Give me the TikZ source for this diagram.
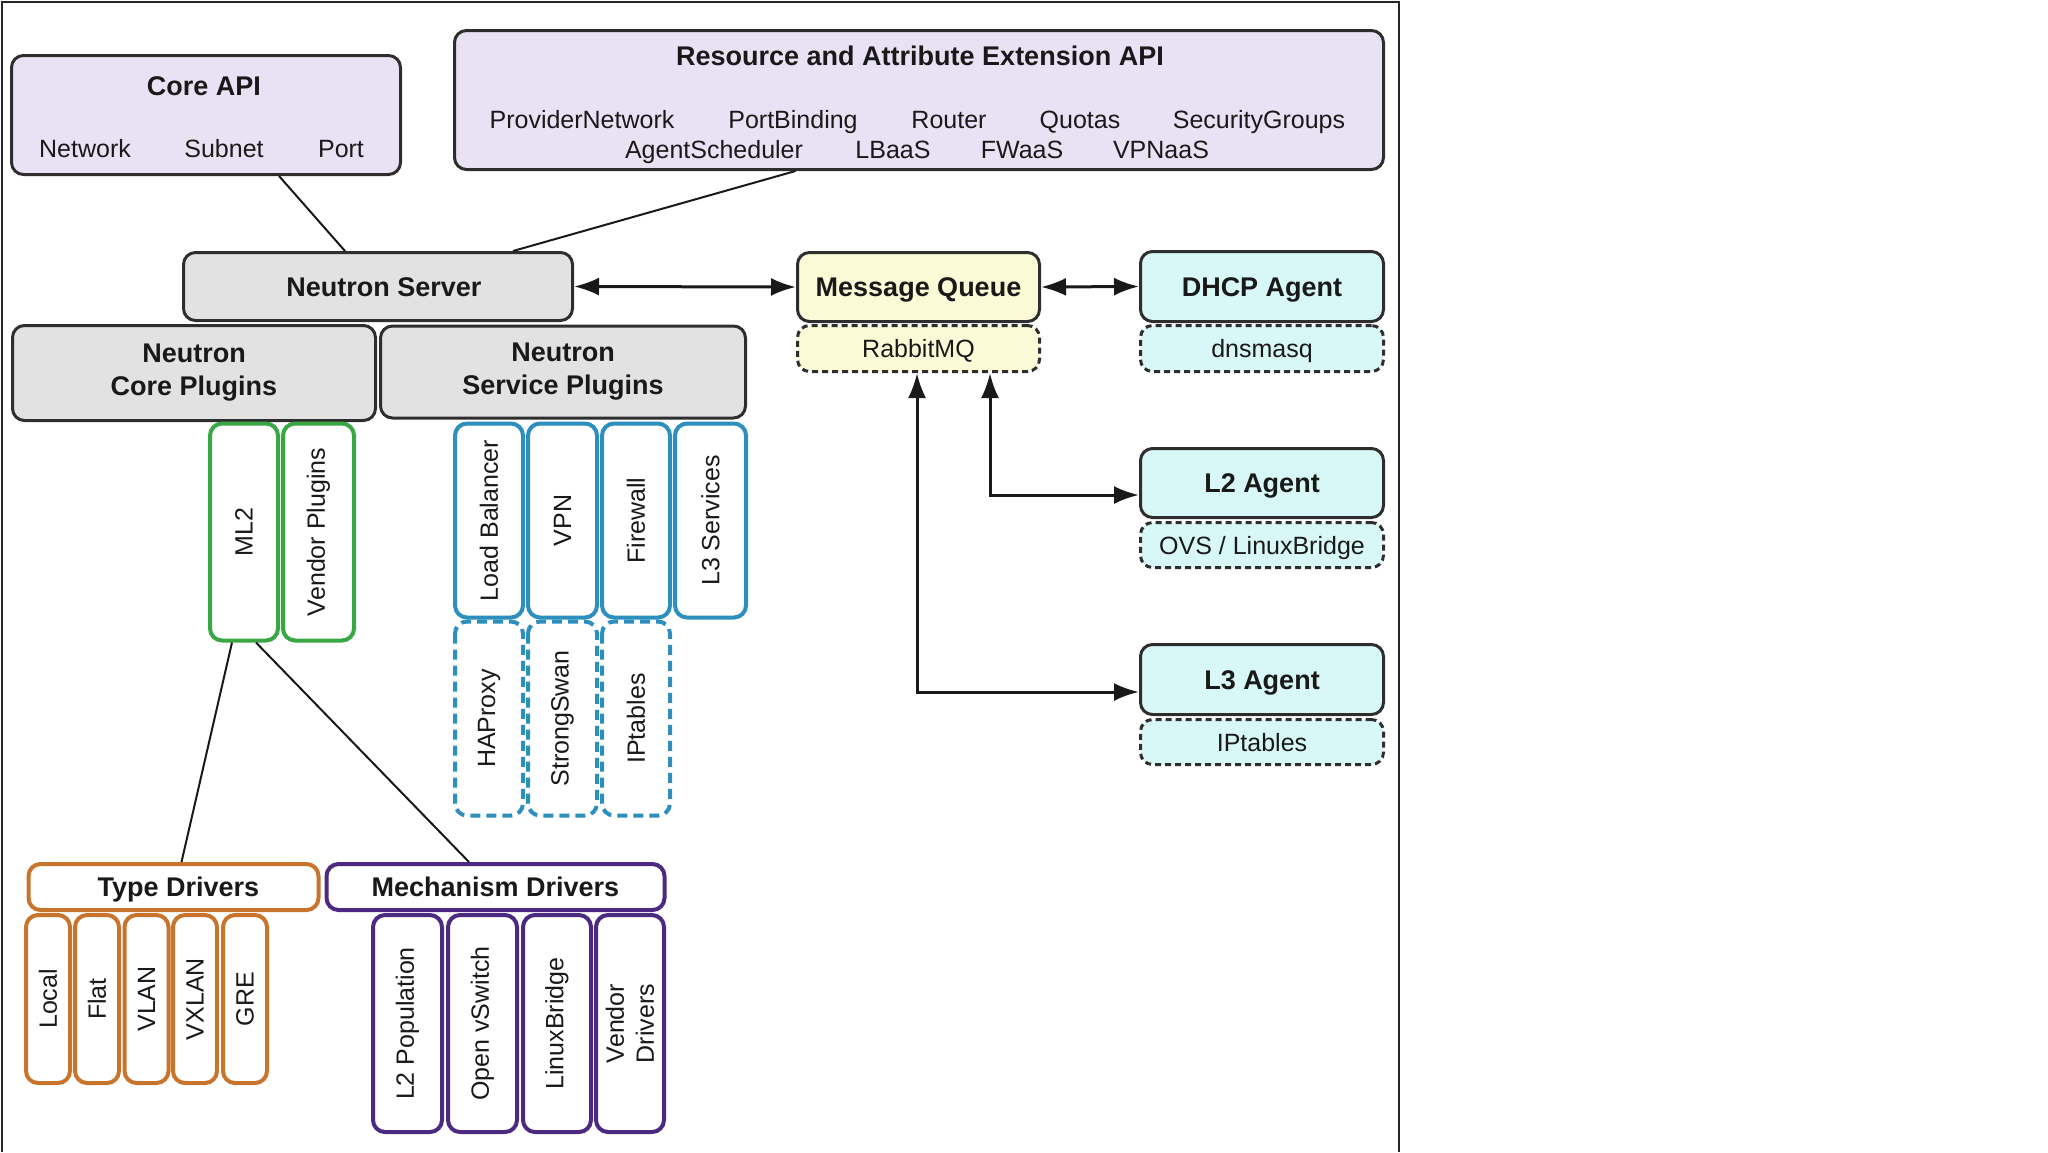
\documentclass[tikz,border=0pt]{standalone}
\usepackage{fontspec}
\setmainfont{Liberation Sans}
\usetikzlibrary{arrows.meta}

\definecolor{linegray}{HTML}{2E2E2E}
\definecolor{apifill}{HTML}{E9E2F4}
\definecolor{srvfill}{HTML}{E2E2E2}
\definecolor{mqfill}{HTML}{FAFAD6}
\definecolor{agentfill}{HTML}{D8F7F7}
\definecolor{plugreen}{HTML}{3AA745}
\definecolor{svcblue}{HTML}{2C8FBE}
\definecolor{typeorange}{HTML}{C8742C}
\definecolor{mechpurple}{HTML}{4C2A82}

\begin{document}
\begin{tikzpicture}[x=1pt, y=-1pt, >={Latex[length=25pt,width=18pt]},
    regtxt/.style={font=\fontsize{25}{30}\selectfont, text=black!90, inner sep=0pt},
    titletxt/.style={font=\bfseries\fontsize{27}{33}\selectfont, text=black!90, inner sep=0pt},
    capreg/.style={text height=18pt, text depth=0pt},
    captitle/.style={text height=19.5pt, text depth=0pt},
    box/.style={rounded corners=12pt, line width=3pt, inner sep=0pt, align=center},
    apibox/.style={box, draw=linegray, fill=apifill},
    srvbox/.style={box, titletxt, draw=linegray, fill=srvfill},
    mqbox/.style={box, titletxt, captitle, draw=linegray, fill=mqfill},
    mqsub/.style={box, regtxt, capreg, draw=linegray, fill=mqfill, dash pattern=on 6pt off 4pt},
    agentbox/.style={box, titletxt, captitle, draw=linegray, fill=agentfill},
    agentsub/.style={box, regtxt, capreg, draw=linegray, fill=agentfill, dash pattern=on 6pt off 4pt},
    vbox/.style={box, regtxt, rotate=90, line width=4pt, fill=white},
    plugbox/.style={vbox, draw=plugreen},
    svcbox/.style={vbox, draw=svcblue},
    svcsub/.style={vbox, draw=svcblue, dash pattern=on 10pt off 6pt},
    typebox/.style={box, titletxt, captitle, line width=4pt, draw=typeorange, fill=white},
    typesub/.style={vbox, draw=typeorange},
    mechbox/.style={box, titletxt, captitle, line width=4pt, draw=mechpurple, fill=white},
    mechsub/.style={vbox, draw=mechpurple},
    conn/.style={line width=2pt, draw=black!90},
    arr/.style={line width=3pt, draw=black!90}]

    \useasboundingbox (0,0) rectangle (2048,1152);
    \draw[line width=2.5pt, black!85] (2,1152) -- (2,2) -- (1399,2) -- (1399,1152);

    % APIs
    \node[apibox, minimum width=389pt, minimum height=119pt] (coreapi) at (206,115) {};
    \node[titletxt, anchor=base] (coreapititle) at (204,95) {Core API};
    \node[regtxt, anchor=base] (network) at (85,157) {Network};
    \node[regtxt, anchor=base] (subnet) at (224,157) {Subnet};
    \node[regtxt, anchor=base] (port) at (341,157) {Port};

    \node[apibox, minimum width=929pt, minimum height=139pt] (extapi) at (919,100) {};
    \node[titletxt, anchor=base] (extapititle) at (920,65) {Resource and Attribute Extension API};
    \node[regtxt, anchor=base] (providernet) at (582,128) {ProviderNetwork};
    \node[regtxt, anchor=base] (portbinding) at (793,128) {PortBinding};
    \node[regtxt, anchor=base] (router) at (949,128) {Router};
    \node[regtxt, anchor=base] (quotas) at (1080,128) {Quotas};
    \node[regtxt, anchor=base] (secgroups) at (1259,128) {SecurityGroups};
    \node[regtxt, anchor=base] (agentsched) at (714,158) {AgentScheduler};
    \node[regtxt, anchor=base] (lbaas) at (893,158) {LBaaS};
    \node[regtxt, anchor=base] (fwaas) at (1022,158) {FWaaS};
    \node[regtxt, anchor=base] (vpnaas) at (1161,158) {VPNaaS};

    % server and plugins
    \node[srvbox, captitle, minimum width=389pt, minimum height=68pt] (server) at (378,286.5) {\hspace*{12pt}Neutron Server};
    \node[srvbox, minimum width=363pt, minimum height=95pt] (coreplug) at (194,373) {Neutron\\Core Plugins};
    \node[srvbox, minimum width=365pt, minimum height=92pt] (svcplug) at (563,372) {Neutron\\Service Plugins};

    \node[plugbox, minimum width=217pt, minimum height=68pt] (ml2) at (244,532) {ML2};
    \node[plugbox, minimum width=217pt, minimum height=71pt] (vendplug) at (318.5,532) {Vendor Plugins};

    \node[svcbox, minimum width=194pt, minimum height=68pt] (lb) at (489,520.5) {Load Balancer};
    \node[svcbox, minimum width=194pt, minimum height=69pt] (vpn) at (562.5,520.5) {VPN};
    \node[svcbox, minimum width=194pt, minimum height=68pt] (fw) at (636,520.5) {Firewall};
    \node[svcbox, minimum width=194pt, minimum height=71pt] (l3svc) at (710.5,520.5) {L3 Services};
    \node[svcsub, minimum width=194pt, minimum height=68pt] (haproxy) at (489,718.5) {HAProxy};
    \node[svcsub, minimum width=194pt, minimum height=69pt] (strongswan) at (562.5,718.5) {StrongSwan};
    \node[svcsub, minimum width=194pt, minimum height=68pt] (fwtables) at (636,718.5) {IPtables};

    % ML2 drivers
    \node[typebox, minimum width=290pt, minimum height=46pt] (typedrv) at (173.5,887) {\hspace*{10pt}Type Drivers};
    \node[mechbox, minimum width=338pt, minimum height=46pt] (mechdrv) at (495.5,887) {Mechanism Drivers};

    \node[typesub, minimum width=168pt, minimum height=44pt] (local) at (48,999) {Local};
    \node[typesub, minimum width=168pt, minimum height=44pt] (flat) at (97,999) {Flat};
    \node[typesub, minimum width=168pt, minimum height=44pt] (vlan) at (146.5,999) {VLAN};
    \node[typesub, minimum width=168pt, minimum height=44pt] (vxlan) at (195,999) {VXLAN};
    \node[typesub, minimum width=168pt, minimum height=44pt] (gre) at (245,999) {GRE};

    \node[mechsub, minimum width=217pt, minimum height=69pt] (l2pop) at (407.5,1023.5) {L2 Population};
    \node[mechsub, minimum width=217pt, minimum height=69pt] (ovswitch) at (482.5,1023.5) {Open vSwitch};
    \node[mechsub, minimum width=217pt, minimum height=68pt] (linuxbr) at (557,1023.5) {LinuxBridge};
    \node[mechsub, minimum width=217pt, minimum height=68pt] (venddrv) at (630,1023.5) {Vendor\\Drivers};

    % message queue and agents
    \node[mqbox, minimum width=242pt, minimum height=69pt] (mq) at (918.5,287) {Message Queue};
    \node[mqsub, minimum width=242pt, minimum height=46pt] (rabbit) at (918.5,348.5) {RabbitMQ};

    \node[agentbox, minimum width=243pt, minimum height=70pt] (dhcp) at (1262,286.5) {DHCP Agent};
    \node[agentsub, minimum width=243pt, minimum height=46pt] (dnsmasq) at (1262,348.5) {dnsmasq};
    \node[agentbox, minimum width=243pt, minimum height=69pt] (l2) at (1262,483) {L2 Agent};
    \node[agentsub, minimum width=243pt, minimum height=45pt] (ovs) at (1262,545) {OVS / LinuxBridge};
    \node[agentbox, minimum width=243pt, minimum height=70pt] (l3) at (1262,679.5) {L3 Agent};
    \node[agentsub, minimum width=243pt, minimum height=45pt] (l3tables) at (1262,742) {IPtables};

    % connectors
    \draw[conn] ([xshift=73pt]coreapi.south) -- ([xshift=-33pt]server.north);
    \draw[conn] ([xshift=-123.5pt]extapi.south) -- ([xshift=135pt]server.north);
    \draw[conn] ([xshift=-12pt]ml2.west) -- ([xshift=8pt]typedrv.north);
    \draw[conn] ([xshift=12pt]ml2.west) -- ([xshift=-26.5pt]mechdrv.north);

    \draw[arr, <->] (server.east) -- (mq.west);
    \draw[arr, <->] (mq.east) -- (dhcp.west);
    \coordinate (l2bend) at (990,495);
    \coordinate (l3bend) at (917,692);
    \draw[arr, <->] (rabbit.south -| l2bend) -- (l2bend) -- (l2bend -| l2.west);
    \draw[arr, <->] (rabbit.south -| l3bend) -- (l3bend) -- (l3bend -| l3.west);
\end{tikzpicture}
\end{document}
